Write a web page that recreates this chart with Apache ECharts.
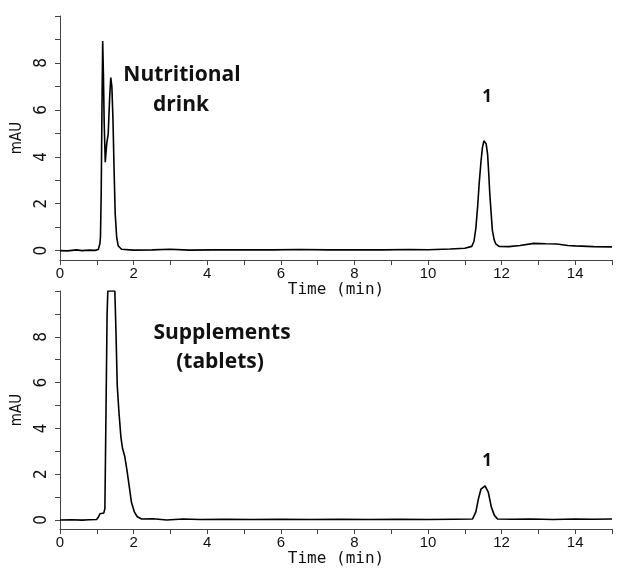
<!DOCTYPE html>
<html>
<head>
<meta charset="utf-8">
<script src="https://cdn.jsdelivr.net/npm/echarts@6/dist/echarts.min.js"></script>
<style>
  html, body { margin: 0; padding: 0; background: #fff; }
  #main { width: 627px; height: 568px; }
</style>
</head>
<body>
<div id="main"></div>
<script>
// nutritional drink chromatogram (time in min, signal in mAU)
var drinkTime = [0, 0.2, 0.45, 0.6, 0.8, 0.95, 1.04, 1.085, 1.10, 1.12, 1.14, 1.16, 1.18, 1.20, 1.23,
    1.27, 1.31, 1.35, 1.38, 1.41, 1.44, 1.47, 1.50, 1.54, 1.58, 1.67, 1.99, 2.5, 3.0, 3.5, 4.2, 5.0,
    5.8, 6.5, 7.3, 8.0, 8.8, 9.5, 10.0, 10.6, 11.0, 11.19, 11.25, 11.30, 11.35, 11.39, 11.44, 11.48,
    11.52, 11.55, 11.58, 11.62, 11.65, 11.68, 11.72, 11.75, 11.80, 11.84, 11.93, 12.2, 12.5, 12.88,
    13.2, 13.5, 13.8, 14.0, 14.5, 15];
var drinkSignal = [0, -0.01, 0.03, 0.0, 0.02, 0.01, 0.05, 0.29, 0.6, 2.5, 6.0, 8.93, 7.5, 5.5, 3.77,
    4.56, 4.98, 6.55, 7.38, 6.98, 5.56, 3.42, 1.57, 0.57, 0.21, 0.06, 0.02, 0.03, 0.06, 0.02, 0.03, 0.04,
    0.03, 0.05, 0.03, 0.04, 0.03, 0.05, 0.04, 0.07, 0.1, 0.18, 0.4, 0.95, 1.9, 2.85, 3.8, 4.4,
    4.68, 4.73, 4.55, 4.1, 3.3, 2.4, 1.5, 0.85, 0.45, 0.29, 0.18, 0.17, 0.22, 0.31,
    0.29, 0.28, 0.22, 0.2, 0.17, 0.16];

// supplements (tablets) chromatogram
var tabletTime = [0, 0.3, 0.6, 0.8, 0.995, 1.05, 1.085, 1.13, 1.19, 1.22, 1.25, 1.28, 1.30, 1.49,
    1.52, 1.555, 1.60, 1.655, 1.70, 1.76, 1.81, 1.88, 1.94, 2.02, 2.10, 2.22, 2.53, 2.9, 3.34, 3.8,
    4.5, 5.2, 6.0, 6.8, 7.6, 8.4, 9.2, 10.0, 10.7, 11.21, 11.30, 11.37, 11.44, 11.55, 11.64, 11.72,
    11.80, 11.89, 12.3, 12.8, 13.4, 14.0, 14.5, 15];
var tabletSignal = [0, 0.01, -0.01, 0.01, 0.02, 0.14, 0.27, 0.33, 0.3, 0.5, 4.75, 9.0, 10, 10,
    8.3, 5.89, 4.75, 3.62, 3.12, 2.77, 2.27, 1.49, 0.78, 0.35, 0.14, 0.04, 0.05, 0, 0.04, 0.02,
    0.03, 0.02, 0.03, 0.02, 0.03, 0.02, 0.03, 0.02, 0.03, 0.04, 0.35, 0.92, 1.35, 1.49, 1.2, 0.57,
    0.21, 0.04, 0.03, 0.04, 0.02, 0.04, 0.03, 0.04];

var yTicks = [0, 1, 2, 3, 4, 5, 6, 7, 8, 9, 10];
var yLabels = [0, 2, 4, 6, 8];

function pairs(t, v) {
    var out = [];
    for (var i = 0; i < t.length; i++) out.push([t[i], v[i]]);
    return out;
}

function xAxisOf(gridIndex) {
    return {
        type: 'value', gridIndex: gridIndex, min: 0, max: 15, interval: 1,
        name: 'Time (min)', nameLocation: 'middle', nameGap: 18,
        nameTextStyle: { fontFamily: 'DejaVu Sans Mono', fontSize: 16, color: '#111' },
        axisLine: { onZero: false, lineStyle: { color: '#444', width: 1 } },
        axisTick: { length: 5, lineStyle: { color: '#444' } },
        axisLabel: {
            margin: 6, fontFamily: 'Liberation Sans', fontSize: 15, color: '#111',
            formatter: function (v) { return v % 2 === 0 ? String(v) : ''; }
        },
        splitLine: { show: false }
    };
}

function yAxisOf(gridIndex) {
    return {
        type: 'value', gridIndex: gridIndex, min: -0.4, max: 10,
        name: 'mAU', nameLocation: 'middle', nameGap: 31, nameRotate: 90,
        nameTextStyle: { fontFamily: 'Liberation Sans Narrow, DejaVu Sans Condensed, sans-serif', fontSize: 15, color: '#111' },
        axisLine: { show: true, lineStyle: { color: '#444', width: 1 } },
        axisTick: { show: true, length: 5, customValues: yTicks, lineStyle: { color: '#444' } },
        axisLabel: {
            rotate: 90, margin: 10, customValues: yLabels,
            fontFamily: 'Liberation Sans Narrow, DejaVu Sans Condensed, sans-serif', fontSize: 17, color: '#111'
        },
        splitLine: { show: false }
    };
}

function lineOf(idx, data) {
    return {
        type: 'line', xAxisIndex: idx, yAxisIndex: idx, data: data,
        showSymbol: false, smooth: false, clip: true, animation: false,
        lineStyle: { color: '#000', width: 1.6 }
    };
}

var boldText = { fontFamily: 'Open Sans', fontWeight: 'bold', fill: '#111', textAlign: 'center', textVerticalAlign: 'middle' };

var chart = echarts.init(document.getElementById('main'));
chart.setOption({
    backgroundColor: '#fff',
    animation: false,
    grid: [
        { left: 60, right: 15, top: 16, height: 244 },
        { left: 60, right: 15, top: 291, height: 243 }
    ],
    xAxis: [xAxisOf(0), xAxisOf(1)],
    yAxis: [yAxisOf(0), yAxisOf(1)],
    series: [
        lineOf(0, pairs(drinkTime, drinkSignal)),
        lineOf(1, pairs(tabletTime, tabletSignal))
    ],
    graphic: [
        { type: 'text', x: 182, y: 75, style: Object.assign({}, boldText, { text: 'Nutritional', fontSize: 21 }) },
        { type: 'text', x: 181, y: 105, style: Object.assign({}, boldText, { text: 'drink', fontSize: 21 }) },
        { type: 'text', x: 222, y: 333, style: Object.assign({}, boldText, { text: 'Supplements', fontSize: 21 }) },
        { type: 'text', x: 220, y: 362, style: Object.assign({}, boldText, { text: '(tablets)', fontSize: 21 }) },
        { type: 'text', x: 487, y: 97, style: Object.assign({}, boldText, { text: '1', fontSize: 17 }) },
        { type: 'text', x: 487, y: 461, style: Object.assign({}, boldText, { text: '1', fontSize: 17 }) }
    ]
});
</script>
</body>
</html>
